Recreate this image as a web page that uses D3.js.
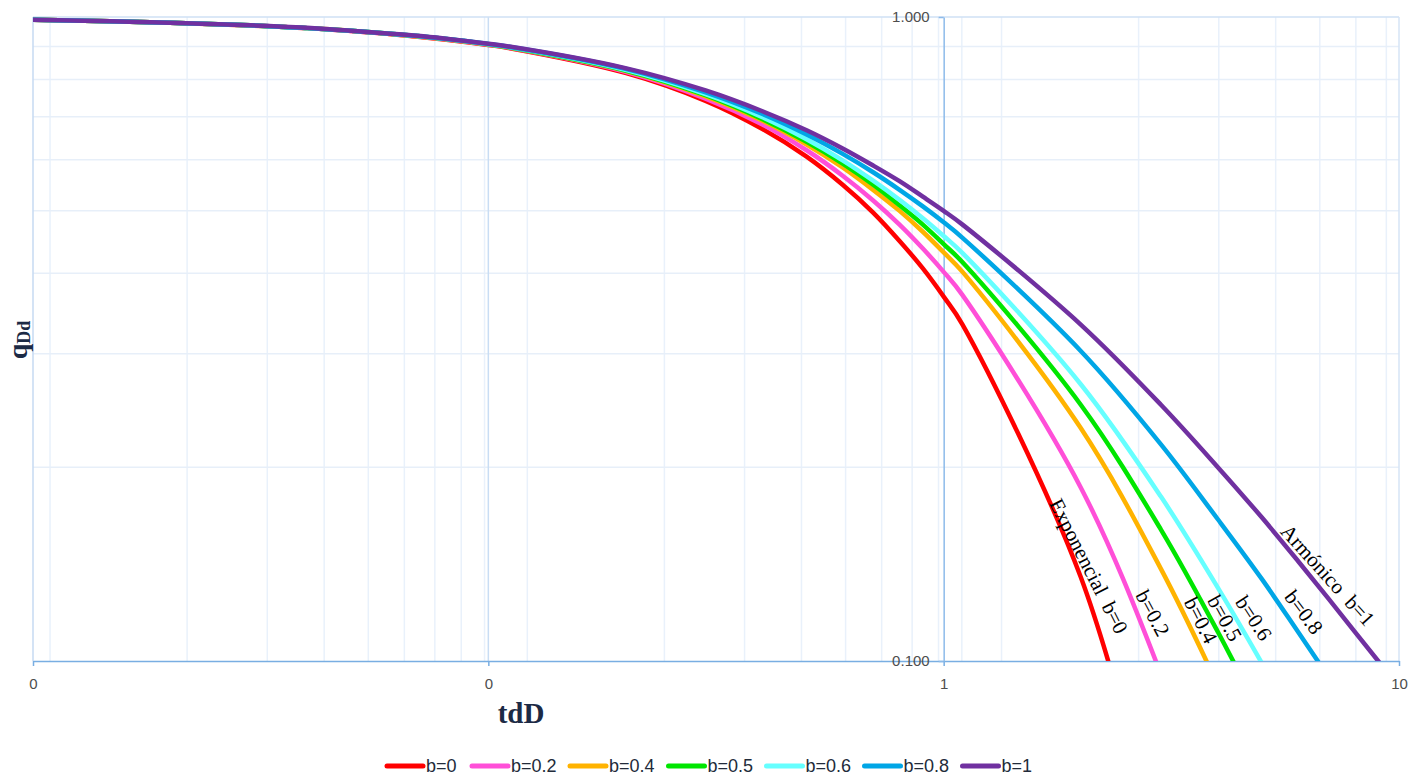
<!DOCTYPE html>
<html>
<head>
<meta charset="utf-8">
<script src="https://cdn.jsdelivr.net/npm/d3@7"></script>
<style>
  html, body { margin: 0; padding: 0; background: #ffffff; }
  svg { display: block; }
</style>
</head>
<body>
<svg id="chart" width="1421" height="776"></svg>
<script>
// Dimensionless time tdD (table steps)
const tdD = [0.01, 0.02, 0.03, 0.04, 0.05, 0.06, 0.07, 0.08, 0.09, 0.1, 0.11,
             0.2, 0.3, 0.4, 0.5, 0.6, 0.7, 0.8, 0.9, 1.0, 1.1,
             2, 3, 4, 5, 6, 7, 8, 9, 10];

// Dimensionless rate qDd for each decline exponent b
const qB0  = [0.990, 0.980, 0.970, 0.961, 0.951, 0.942, 0.932, 0.923, 0.914, 0.905, 0.896,
              0.819, 0.741, 0.670, 0.607, 0.549, 0.497, 0.449, 0.407, 0.368, 0.333,
              0.135, 0.0498];
const qB02 = [0.990, 0.980, 0.971, 0.961, 0.951, 0.942, 0.933, 0.924, 0.915, 0.906, 0.897,
              0.822, 0.747, 0.681, 0.621, 0.567, 0.519, 0.476, 0.437, 0.402, 0.370,
              0.186, 0.0954, 0.0529];
const qB04 = [0.990, 0.980, 0.971, 0.961, 0.952, 0.942, 0.933, 0.924, 0.915, 0.907, 0.898,
              0.825, 0.753, 0.690, 0.634, 0.584, 0.539, 0.500, 0.464, 0.431, 0.402,
              0.230, 0.139, 0.0917, 0.0642];
const qB05 = [0.990, 0.980, 0.971, 0.961, 0.952, 0.943, 0.934, 0.925, 0.916, 0.907, 0.898,
              0.826, 0.756, 0.694, 0.640, 0.592, 0.549, 0.510, 0.476, 0.444, 0.416,
              0.250, 0.160, 0.111, 0.0816, 0.0625];
const qB06 = [0.990, 0.980, 0.971, 0.961, 0.952, 0.943, 0.934, 0.925, 0.916, 0.907, 0.899,
              0.828, 0.759, 0.699, 0.646, 0.599, 0.557, 0.520, 0.487, 0.457, 0.430,
              0.269, 0.180, 0.130, 0.0992, 0.0786];
const qB08 = [0.990, 0.980, 0.971, 0.961, 0.952, 0.943, 0.934, 0.925, 0.917, 0.908, 0.900,
              0.831, 0.764, 0.707, 0.657, 0.613, 0.574, 0.539, 0.508, 0.480, 0.454,
              0.303, 0.217, 0.166, 0.134, 0.111, 0.0945, 0.0819];
const qB1  = [0.990, 0.980, 0.971, 0.962, 0.952, 0.943, 0.935, 0.926, 0.917, 0.909, 0.901,
              0.833, 0.769, 0.714, 0.667, 0.625, 0.588, 0.556, 0.526, 0.500, 0.476,
              0.333, 0.250, 0.200, 0.167, 0.143, 0.125, 0.111, 0.100, 0.0909];

const seriesNames  = ["b=0", "b=0.2", "b=0.4", "b=0.5", "b=0.6", "b=0.8", "b=1"];
const seriesValues = [qB0, qB02, qB04, qB05, qB06, qB08, qB1];
const seriesColors = ["#ff0000", "#ff4fd8", "#ffb300", "#00e600", "#66ffff", "#00a6e6", "#7030a0"];

// Labels written along each curve
const curveLabels = ["Exponencial  b=0", "b=0.2", "b=0.4", "b=0.5", "b=0.6", "b=0.8", "Armónico  b=1"];
const curveLabelAt = [
  [1089, 566, 63], [1153, 613, 62], [1201, 620, 63], [1225, 618, 61],
  [1254, 618, 57], [1304, 612, 53], [1328, 575, 48]
];

// Axis domains and tick labels
const xDomain = [0.01, 10];
const yDomain = [0.1, 1];
const xTicks = [0.01, 0.1, 1, 10];
const xTickLabels = ["0", "0", "1", "10"];
const yTicks = [1, 0.1];
const yTickLabels = ["1.000", "0.100"];
const xGridMajor = [0.1];
const xGridMinor = [0.0109, 0.0218, 0.0327, 0.0436, 0.0545, 0.0654, 0.0763, 0.0872, 0.0981,
                    0.1218, 0.2436, 0.3654, 0.4872, 0.609, 0.7308, 0.8526, 0.9744, 1.0962,
                    1.34, 2.68, 4.02, 5.36, 6.70, 8.04, 9.38];
const yGrid = [0.2, 0.3, 0.4, 0.5, 0.6, 0.7, 0.8, 0.9];

const svg = d3.select("#chart");
const plot = { left: 33, right: 1399, top: 17, bottom: 661 };

const x = d3.scaleLog().domain(xDomain).range([plot.left, plot.right]);
const y = d3.scaleLog().domain(yDomain).range([plot.bottom, plot.top]);

svg.append("defs").append("clipPath").attr("id", "plotClip")
  .append("rect")
  .attr("x", plot.left).attr("y", plot.top - 4)
  .attr("width", plot.right - plot.left).attr("height", plot.bottom - plot.top + 4);

// grid
const grid = svg.append("g");
grid.selectAll("line.vminor").data(xGridMinor).join("line")
  .attr("x1", d => x(d)).attr("x2", d => x(d))
  .attr("y1", plot.top).attr("y2", plot.bottom)
  .attr("stroke", "#e9f1fb").attr("stroke-width", 1.5);
grid.selectAll("line.hgrid").data(yGrid).join("line")
  .attr("x1", plot.left).attr("x2", plot.right)
  .attr("y1", d => y(d)).attr("y2", d => y(d))
  .attr("stroke", "#e7eff9").attr("stroke-width", 1.5);
grid.selectAll("line.vmajor").data(xGridMajor).join("line")
  .attr("x1", d => x(d)).attr("x2", d => x(d))
  .attr("y1", plot.top).attr("y2", plot.bottom)
  .attr("stroke", "#c9ddf4").attr("stroke-width", 1.5);

// frame
svg.append("line").attr("x1", plot.left).attr("x2", plot.right)
  .attr("y1", plot.top).attr("y2", plot.top).attr("stroke", "#cfe0f4").attr("stroke-width", 1.5);
svg.append("line").attr("x1", plot.left).attr("x2", plot.left)
  .attr("y1", plot.top).attr("y2", plot.bottom).attr("stroke", "#c6daf2").attr("stroke-width", 1.5);
svg.append("line").attr("x1", plot.right).attr("x2", plot.right)
  .attr("y1", plot.top).attr("y2", plot.bottom).attr("stroke", "#d6e5f6").attr("stroke-width", 1.5);

// x axis along the bottom
const tickFont = "'Liberation Sans Narrow', 'Arial Narrow', 'Liberation Sans', sans-serif";
const xAxis = d3.axisBottom(x).tickValues(xTicks)
  .tickFormat((d, i) => xTickLabels[i]).tickSize(5).tickPadding(12).tickSizeOuter(0);
const gx = svg.append("g").attr("transform", `translate(0,${plot.bottom})`).call(xAxis);
gx.select(".domain").attr("stroke", "#79aee2").attr("stroke-width", 1.5);
gx.selectAll(".tick line").attr("stroke", "#79aee2").attr("stroke-width", 1.5);
gx.selectAll(".tick text").attr("font-family", tickFont).attr("font-size", 15).attr("fill", "#4d4d4d");

// y axis crossing at tdD = 1
const yAxis = d3.axisLeft(y).tickValues(yTicks)
  .tickFormat((d, i) => yTickLabels[i]).tickSize(5).tickPadding(9).tickSizeOuter(0);
const gy = svg.append("g").attr("transform", `translate(${x(1)},0)`).call(yAxis);
gy.select(".domain").attr("stroke", "#8dbbea").attr("stroke-width", 1.5);
gy.selectAll(".tick line").attr("stroke", "#8dbbea").attr("stroke-width", 1.5);
gy.selectAll(".tick text").attr("font-family", tickFont).attr("font-size", 15).attr("fill", "#4d4d4d");

// decline curves, smoothed through the table points
const line = d3.line()
  .x((d, i) => x(tdD[i]))
  .y(d => y(d))
  .curve(d3.curveCatmullRom.alpha(0.5));
svg.append("g").attr("clip-path", "url(#plotClip)")
  .selectAll("path").data(seriesValues).join("path")
  .attr("d", d => line(d))
  .attr("fill", "none")
  .attr("stroke", (d, i) => seriesColors[i])
  .attr("stroke-width", 4.5)
  .attr("stroke-linejoin", "round");

// curve labels
svg.append("g").selectAll("text").data(curveLabels).join("text")
  .attr("transform", (d, i) => `translate(${curveLabelAt[i][0]},${curveLabelAt[i][1]}) rotate(${curveLabelAt[i][2]})`)
  .attr("text-anchor", "middle").attr("dy", "0.35em")
  .style("white-space", "pre")
  .attr("font-family", "'Liberation Serif', 'Times New Roman', serif")
  .attr("font-size", 21).attr("fill", "#000")
  .text(d => d);

// axis titles
svg.append("text").attr("x", 521).attr("y", 723)
  .attr("text-anchor", "middle")
  .attr("font-family", "'Liberation Serif', 'Times New Roman', serif")
  .attr("font-weight", "bold").attr("font-size", 29).attr("fill", "#1c2a45")
  .text("tdD");
const yTitle = svg.append("text")
  .attr("transform", "translate(27,340) rotate(-90)")
  .attr("text-anchor", "middle")
  .attr("font-family", "'Liberation Serif', 'Times New Roman', serif")
  .attr("font-weight", "bold").attr("fill", "#1c2a45");
yTitle.append("tspan").attr("font-size", 28).text("q");
yTitle.append("tspan").attr("font-size", 18).attr("dy", 3).text("Dd");

// legend
const legendX = [385, 470, 568, 666.5, 764.5, 862.5, 960.5];
const legend = svg.append("g").attr("transform", "translate(0,766)");
const item = legend.selectAll("g").data(seriesNames).join("g")
  .attr("transform", (d, i) => `translate(${legendX[i]},0)`);
item.append("line").attr("x1", 2).attr("x2", 38).attr("y1", 0).attr("y2", 0)
  .attr("stroke", (d, i) => seriesColors[i]).attr("stroke-width", 5).attr("stroke-linecap", "round");
item.append("text").attr("x", 41).attr("dy", "0.35em")
  .attr("font-family", tickFont)
  .attr("font-size", 18).attr("fill", "#222b3a")
  .text(d => d);
</script>
</body>
</html>
